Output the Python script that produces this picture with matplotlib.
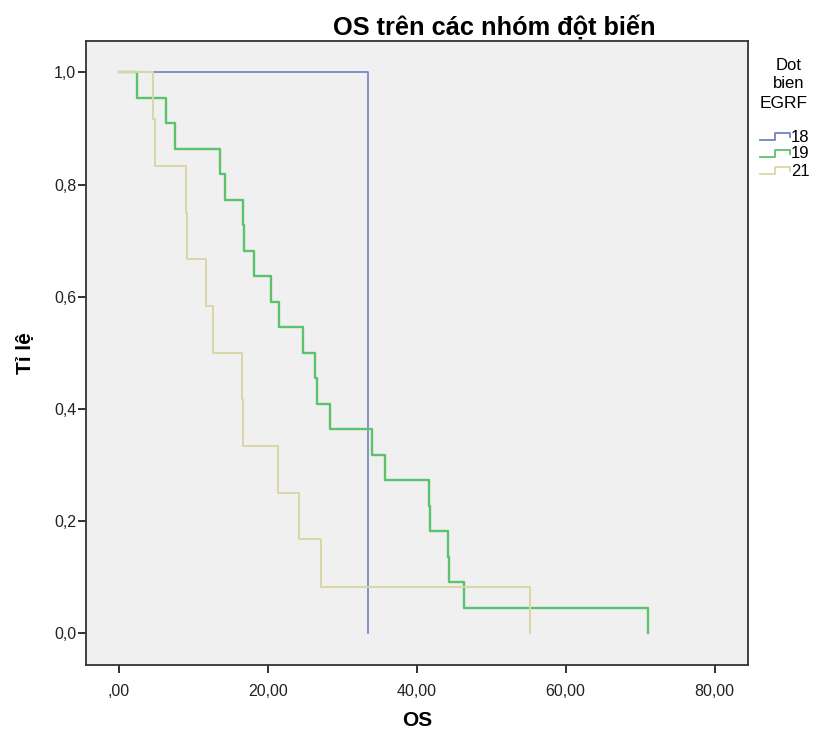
import matplotlib
matplotlib.use("Agg")
import matplotlib.pyplot as plt
from matplotlib.lines import Line2D

# Kaplan-Meier step data (time, survival)
t_18 = [0, 33.4]
s_18 = [1.0, 0.0]

t_19 = [0, 2.5, 6.3, 7.6, 13.6, 14.2, 16.7, 16.8, 18.2, 20.4, 21.5, 24.7,
        26.4, 26.6, 28.4, 34.0, 35.7, 41.7, 41.8, 44.2, 44.3, 46.3, 71.1]
s_19 = [1.0, 0.955, 0.909, 0.864, 0.818, 0.773, 0.727, 0.682, 0.636, 0.591,
        0.545, 0.500, 0.455, 0.409, 0.364, 0.318, 0.273, 0.227, 0.182, 0.136,
        0.091, 0.045, 0.0]

t_21 = [0, 4.6, 4.8, 9.0, 9.1, 11.7, 12.7, 16.6, 16.7, 21.4, 24.2, 27.1, 55.2]
s_21 = [1.0, 0.917, 0.833, 0.750, 0.667, 0.583, 0.500, 0.417, 0.333, 0.250,
        0.167, 0.083, 0.0]

groups = ["18", "19", "21"]
colors = ["#6f82c4", "#5cc26b", "#dbd6a6"]

xticks = [0, 20, 40, 60, 80]
xtick_labels = [",00", "20,00", "40,00", "60,00", "80,00"]
yticks = [0.0, 0.2, 0.4, 0.6, 0.8, 1.0]
ytick_labels = ["0,0", "0,2", "0,4", "0,6", "0,8", "1,0"]

plt.rcParams["font.family"] = ["Liberation Sans", "DejaVu Sans"]

fig = plt.figure(figsize=(8.14, 7.29), dpi=100)
ax = fig.add_axes([0.1057, 0.0878, 0.8133, 0.856])
ax.set_facecolor("#f0f0f0")

ax.step(t_18, s_18, where="post", color=colors[0], lw=1.2, zorder=2)
ax.step(t_19, s_19, where="post", color=colors[1], lw=1.7, zorder=3)
ax.step(t_21, s_21, where="post", color=colors[2], lw=1.4, zorder=4)

ax.set_xlim(-4.4, 84.5)
ax.set_ylim(-0.057, 1.056)
ax.set_xticks(xticks)
ax.set_xticklabels(xtick_labels)
ax.set_yticks(yticks)
ax.set_yticklabels(ytick_labels)
ax.tick_params(direction="out", length=6, width=1.3, labelsize=11.5,
               colors="#222222", pad=1)
ax.tick_params(axis="x", pad=8)
for sp in ax.spines.values():
    sp.set_linewidth(1.3)
    sp.set_color("#333333")

fig.text(494 / 814, 1 - 27 / 729, "OS trên các nhóm đột biến", ha="center",
         va="center", fontsize=18.3, fontweight="bold")
ax.set_xlabel("OS", fontsize=15, fontweight="bold", labelpad=8)
ax.set_ylabel("Tỉ lệ", fontsize=15, fontweight="bold", labelpad=14)

# legend on the right edge, partly cut off like the original
fig.text(789 / 814, 1 - 66 / 729, "Dot", ha="center", va="center", fontsize=12)
fig.text(789 / 814, 1 - 84 / 729, "bien", ha="center", va="center", fontsize=12)
fig.text(760 / 814, 1 - 103 / 729, "EGRF", ha="left", va="center", fontsize=12.5)
for i, (g, c) in enumerate(zip(groups, colors)):
    yc = 137 + i * 17
    xs = [760, 775, 775, 790, 790]
    ys = [yc + 3, yc + 3, yc - 4, yc - 4, yc]
    fig.add_artist(Line2D([x / 814 for x in xs], [1 - y / 729 for y in ys],
                          color=c, lw=1.3, transform=fig.transFigure))
    fig.text(791 / 814, 1 - yc / 729, g, ha="left", va="center", fontsize=12)

fig.savefig("out.png", dpi=100)
